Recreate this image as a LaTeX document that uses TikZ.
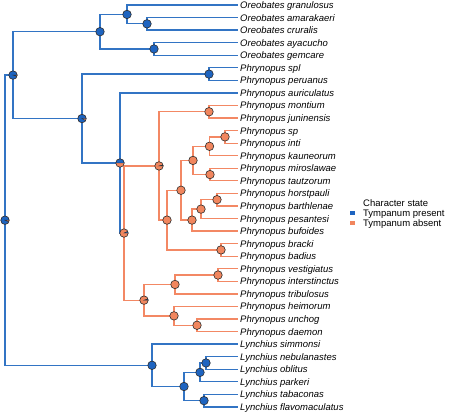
\documentclass[tikz,border=0pt]{standalone}
\usepackage{fontspec}
\setmainfont{Liberation Sans}
\pgfdeclarelayer{bg}
\pgfsetlayers{bg,main}
\definecolor{bfill}{RGB}{30,100,192}
\definecolor{bline}{RGB}{50,116,196}
\definecolor{ofill}{RGB}{241,134,94}
\definecolor{oline}{RGB}{243,136,100}
\definecolor{outl}{RGB}{45,45,45}
\tikzset{
  bl/.style={draw=bline, line width=1.3pt},
  ol/.style={draw=oline, line width=1.3pt},
  tip/.style={anchor=west, inner xsep=2pt, inner ysep=0pt, text height=7pt, text depth=0pt,
    font=\fontsize{9.5}{10}\selectfont\itshape},
  bnode/.style={circle, draw=outl, line width=0.6pt, minimum size=8.5pt, inner sep=0pt, fill=bfill},
  onode/.style={circle, draw=outl, line width=0.6pt, minimum size=8.5pt, inner sep=0pt, fill=ofill},
  pienode/.style={circle, draw=outl, line width=0.6pt, minimum size=8.5pt, inner sep=0pt, fill=ofill,
    path picture={\filldraw[fill=bfill, draw=outl, line width=0.4pt]
      (path picture bounding box.center) -- ++(0:6pt) arc[start angle=0, end angle={360*#1}, radius=6pt] -- cycle;}},
  legtext/.style={anchor=west, inner sep=0pt, text height=7pt, text depth=0pt, font=\fontsize{9.5}{10}\selectfont},
  key/.style={minimum width=5pt, minimum height=4pt, inner sep=0pt}
}
\begin{document}
\begin{tikzpicture}[x=1pt,y=1pt]
\useasboundingbox (0,0) rectangle (474,-414);
% tips
\node[tip] (t0) at (238,-5.00) {Oreobates granulosus};
\node[tip] (t1) at (238,-17.56) {Oreobates amarakaeri};
\node[tip] (t2) at (238,-30.12) {Oreobates cruralis};
\node[tip] (t3) at (238,-42.68) {Oreobates ayacucho};
\node[tip] (t4) at (238,-55.24) {Oreobates gemcare};
\node[tip] (t5) at (238,-67.80) {Phrynopus spl};
\node[tip] (t6) at (238,-80.36) {Phrynopus peruanus};
\node[tip] (t7) at (238,-92.92) {Phrynopus auriculatus};
\node[tip] (t8) at (238,-105.48) {Phrynopus montium};
\node[tip] (t9) at (238,-118.04) {Phrynopus juninensis};
\node[tip] (t10) at (238,-130.60) {Phrynopus sp};
\node[tip] (t11) at (238,-143.16) {Phrynopus inti};
\node[tip] (t12) at (238,-155.72) {Phrynopus kauneorum};
\node[tip] (t13) at (238,-168.28) {Phrynopus miroslawae};
\node[tip] (t14) at (238,-180.84) {Phrynopus tautzorum};
\node[tip] (t15) at (238,-193.40) {Phrynopus horstpauli};
\node[tip] (t16) at (238,-205.96) {Phrynopus barthlenae};
\node[tip] (t17) at (238,-218.52) {Phrynopus pesantesi};
\node[tip] (t18) at (238,-231.08) {Phrynopus bufoides};
\node[tip] (t19) at (238,-243.64) {Phrynopus bracki};
\node[tip] (t20) at (238,-256.20) {Phrynopus badius};
\node[tip] (t21) at (238,-268.76) {Phrynopus vestigiatus};
\node[tip] (t22) at (238,-281.32) {Phrynopus interstinctus};
\node[tip] (t23) at (238,-293.88) {Phrynopus tribulosus};
\node[tip] (t24) at (238,-306.44) {Phrynopus heimorum};
\node[tip] (t25) at (238,-319.00) {Phrynopus unchog};
\node[tip] (t26) at (238,-331.56) {Phrynopus daemon};
\node[tip] (t27) at (238,-344.12) {Lynchius simmonsi};
\node[tip] (t28) at (238,-356.68) {Lynchius nebulanastes};
\node[tip] (t29) at (238,-369.24) {Lynchius oblitus};
\node[tip] (t30) at (238,-381.80) {Lynchius parkeri};
\node[tip] (t31) at (238,-394.36) {Lynchius tabaconas};
\node[tip] (t32) at (238,-406.92) {Lynchius flavomaculatus};
% internal nodes
\node[pienode=0.93] (root) at (5,-220.2) {};
\node[pienode=0.95] (nA) at (13,-75.1) {};
\node[bnode] (nOr) at (100,-31.69) {};
\node[bnode] (nOr1) at (127,-14.42) {};
\node[bnode] (nOr2) at (147,-23.84) {};
\node[bnode] (nOr3) at (154,-48.96) {};
\node[pienode=0.92] (nB) at (82,-118.54) {};
\node[bnode] (nPA) at (209,-74.08) {};
\node[pienode=0.5] (nC) at (120,-162.99) {};
\node[pienode=0.07] (nE) at (124,-233.05) {};
\node[pienode=0.04] (nF) at (159,-165.93) {};
\node[onode] (nH) at (209,-111.76) {};
\node[onode] (nI) at (167,-220.09) {};
\node[onode] (nJ) at (181,-190.26) {};
\node[onode] (nL) at (193,-160.43) {};
\node[onode] (nN) at (209.5,-146.3) {};
\node[onode] (nP) at (225,-136.88) {};
\node[onode] (nO) at (210,-174.56) {};
\node[onode] (nM) at (192,-220.09) {};
\node[onode] (nQ) at (201,-209.1) {};
\node[onode] (nR) at (217,-199.68) {};
\node[onode] (nK) at (221,-249.92) {};
\node[pienode=0.05] (nG) at (144,-300.16) {};
\node[onode] (nS) at (175,-284.46) {};
\node[onode] (nU) at (218,-275.04) {};
\node[onode] (nT) at (174,-315.86) {};
\node[onode] (nV) at (197,-325.28) {};
\node[bnode] (nW) at (152,-365.3) {};
\node[bnode] (nX) at (184,-386.51) {};
\node[bnode] (nY) at (200,-372.38) {};
\node[bnode] (nAA) at (206,-362.96) {};
\node[bnode] (nZ) at (204,-400.64) {};
% edges
\begin{pgfonlayer}{bg}
\fill[white] (0,0) rectangle (474,-414);
\draw[bl] (root.center) |- (nA.center);
\draw[bl] (root.center) |- (nW.center);
\draw[bl] (nA.center) |- (nOr.center);
\draw[bl] (nA.center) |- (nB.center);
\draw[bl] (nOr.center) |- (nOr1.center);
\draw[bl] (nOr.center) |- (nOr3.center);
\draw[bl] (nOr1.center) |- (t0.west);
\draw[bl] (nOr1.center) |- (nOr2.center);
\draw[bl] (nOr2.center) |- (t1.west);
\draw[bl] (nOr2.center) |- (t2.west);
\draw[bl] (nOr3.center) |- (t3.west);
\draw[bl] (nOr3.center) |- (t4.west);
\draw[bl] (nB.center) |- (nPA.center);
\draw[bl] (nB.center) |- (nC.center);
\draw[bl] (nPA.center) |- (t5.west);
\draw[bl] (nPA.center) |- (t6.west);
\draw[bl] (nC.center) |- (t7.west);
\draw[bl] (nC.center) |- (nE.center);
\draw[ol] (nE.center) |- (nF.center);
\draw[ol] (nE.center) |- (nG.center);
\draw[ol] (nF.center) |- (nH.center);
\draw[ol] (nF.center) |- (nI.center);
\draw[ol] (nH.center) |- (t8.west);
\draw[ol] (nH.center) |- (t9.west);
\draw[ol] (nI.center) |- (nJ.center);
\draw[ol] (nI.center) |- (nK.center);
\draw[ol] (nJ.center) |- (nL.center);
\draw[ol] (nJ.center) |- (nM.center);
\draw[ol] (nL.center) |- (nN.center);
\draw[ol] (nL.center) |- (nO.center);
\draw[ol] (nN.center) |- (nP.center);
\draw[ol] (nN.center) |- (t12.west);
\draw[ol] (nP.center) |- (t10.west);
\draw[ol] (nP.center) |- (t11.west);
\draw[ol] (nO.center) |- (t13.west);
\draw[ol] (nO.center) |- (t14.west);
\draw[ol] (nM.center) |- (nQ.center);
\draw[ol] (nM.center) |- (t18.west);
\draw[ol] (nQ.center) |- (nR.center);
\draw[ol] (nQ.center) |- (t17.west);
\draw[ol] (nR.center) |- (t15.west);
\draw[ol] (nR.center) |- (t16.west);
\draw[ol] (nK.center) |- (t19.west);
\draw[ol] (nK.center) |- (t20.west);
\draw[ol] (nG.center) |- (nS.center);
\draw[ol] (nG.center) |- (nT.center);
\draw[ol] (nS.center) |- (nU.center);
\draw[ol] (nS.center) |- (t23.west);
\draw[ol] (nU.center) |- (t21.west);
\draw[ol] (nU.center) |- (t22.west);
\draw[ol] (nT.center) |- (t24.west);
\draw[ol] (nT.center) |- (nV.center);
\draw[ol] (nV.center) |- (t25.west);
\draw[ol] (nV.center) |- (t26.west);
\draw[bl] (nW.center) |- (t27.west);
\draw[bl] (nW.center) |- (nX.center);
\draw[bl] (nX.center) |- (nY.center);
\draw[bl] (nX.center) |- (nZ.center);
\draw[bl] (nY.center) |- (nAA.center);
\draw[bl] (nY.center) |- (t30.west);
\draw[bl] (nAA.center) |- (t28.west);
\draw[bl] (nAA.center) |- (t29.west);
\draw[bl] (nZ.center) |- (t31.west);
\draw[bl] (nZ.center) |- (t32.west);
\end{pgfonlayer}
% legend
\node[legtext] (legtitle) at (363,-202.7) {Character state};
\node[key, fill=bfill] (k1) at (352,-213.3) {};
\node[legtext] (l1) at (363,-213.3) {Tympanum present};
\node[key, fill=ofill] (k2) at (352,-222.7) {};
\node[legtext] (l2) at (363,-222.7) {Tympanum absent};
\end{tikzpicture}
\end{document}
